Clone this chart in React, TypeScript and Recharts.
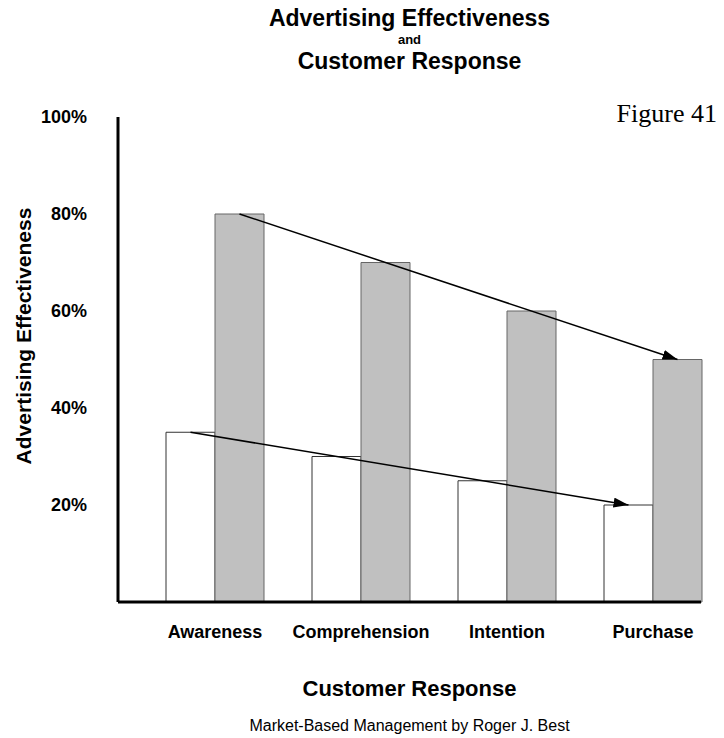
import { ComposedChart, Bar, Line, XAxis, YAxis } from 'recharts';

const categories = ['Awareness', 'Comprehension', 'Intention', 'Purchase'];
const responseLevels = [35, 30, 25, 20];
const effectivenessLevels = [80, 70, 60, 50];
const yTicks = [20, 40, 60, 80, 100];

const last = categories.length - 1;
const isEnd = (i: number) => i === 0 || i === last;

const data = categories.map((name, i) => ({
  name,
  response: responseLevels[i],
  effectiveness: effectivenessLevels[i],
  // the trend arrows run from the first to the last category
  responseArrow: isEnd(i) ? responseLevels[i] : null,
  effectivenessArrow: isEnd(i) ? effectivenessLevels[i] : null,
}));

const font = '"Liberation Sans", Arial, sans-serif';
const tickStyle = { fill: '#000', fontSize: 18, fontWeight: 'bold', fontFamily: font };

// the bar axis is padded 24px left / -25px right; the arrow axes are the same
// scale shifted by half a bar so their band centres sit on the bar centres
const HALF_BAR = 24.5;

export default function App() {
  return (
    <div style={{ position: 'relative', width: 724, height: 738, margin: '-8px 0 0 -8px', fontFamily: font }}>
      <div style={{ position: 'absolute', top: 5, left: 118, width: 583, textAlign: 'center', fontWeight: 'bold', fontSize: 23, lineHeight: '27px' }}>
        Advertising Effectiveness
      </div>
      <div style={{ position: 'absolute', top: 32, left: 118, width: 583, textAlign: 'center', fontWeight: 'bold', fontSize: 13, lineHeight: '16px' }}>
        and
      </div>
      <div style={{ position: 'absolute', top: 48, left: 118, width: 583, textAlign: 'center', fontWeight: 'bold', fontSize: 23, lineHeight: '27px' }}>
        Customer Response
      </div>
      <div style={{ position: 'absolute', top: 99, right: 7, fontFamily: '"Liberation Serif", "Times New Roman", serif', fontSize: 26, lineHeight: '30px' }}>
        Figure 41
      </div>
      <div
        style={{
          position: 'absolute',
          left: 24,
          top: 336,
          transform: 'translate(-50%, -50%) rotate(-90deg)',
          whiteSpace: 'nowrap',
          fontWeight: 'bold',
          fontSize: 21,
        }}
      >
        Advertising Effectiveness
      </div>
      <ComposedChart
        width={724}
        height={738}
        data={data}
        margin={{ top: 117, right: 23, bottom: 100, left: 0 }}
        barCategoryGap={24}
        barGap={0}
      >
        <defs>
          <marker
            id="arrowHead"
            viewBox="0 0 15 10"
            refX={15}
            refY={5}
            markerWidth={15}
            markerHeight={10}
            markerUnits="userSpaceOnUse"
            orient="auto"
          >
            <path d="M0,0 L15,5 L0,10 Z" fill="#000" />
          </marker>
        </defs>
        <XAxis
          dataKey="name"
          height={36}
          padding={{ left: 24, right: -25 }}
          axisLine={{ stroke: '#000', strokeWidth: 3 }}
          tickLine={false}
          tickMargin={17}
          tick={tickStyle}
          interval={0}
        />
        <XAxis
          xAxisId="lowArrow"
          dataKey="name"
          hide
          padding={{ left: 24 - HALF_BAR, right: -25 + HALF_BAR }}
        />
        <XAxis
          xAxisId="highArrow"
          dataKey="name"
          hide
          padding={{ left: 24 + HALF_BAR, right: -25 - HALF_BAR }}
        />
        <YAxis
          width={118}
          domain={[0, 100]}
          ticks={yTicks}
          tickFormatter={(v: number) => `${v}%`}
          axisLine={{ stroke: '#000', strokeWidth: 3 }}
          tickLine={false}
          tickMargin={25}
          tick={tickStyle}
        />
        <Bar dataKey="response" fill="#ffffff" stroke="#333" strokeWidth={1} isAnimationActive={false} />
        <Bar dataKey="effectiveness" fill="#c0c0c0" stroke="#666" strokeWidth={1} isAnimationActive={false} />
        <Line
          xAxisId="lowArrow"
          dataKey="responseArrow"
          stroke="#000"
          strokeWidth={1.5}
          dot={false}
          activeDot={false}
          connectNulls
          markerEnd="url(#arrowHead)"
          isAnimationActive={false}
        />
        <Line
          xAxisId="highArrow"
          dataKey="effectivenessArrow"
          stroke="#000"
          strokeWidth={1.5}
          dot={false}
          activeDot={false}
          connectNulls
          markerEnd="url(#arrowHead)"
          isAnimationActive={false}
        />
      </ComposedChart>
      <div style={{ position: 'absolute', top: 676, left: 118, width: 583, textAlign: 'center', fontWeight: 'bold', fontSize: 22, lineHeight: '26px' }}>
        Customer Response
      </div>
      <div style={{ position: 'absolute', top: 716, left: 118, width: 583, textAlign: 'center', fontSize: 16, lineHeight: '20px' }}>
        Market-Based Management by Roger J. Best
      </div>
    </div>
  );
}
